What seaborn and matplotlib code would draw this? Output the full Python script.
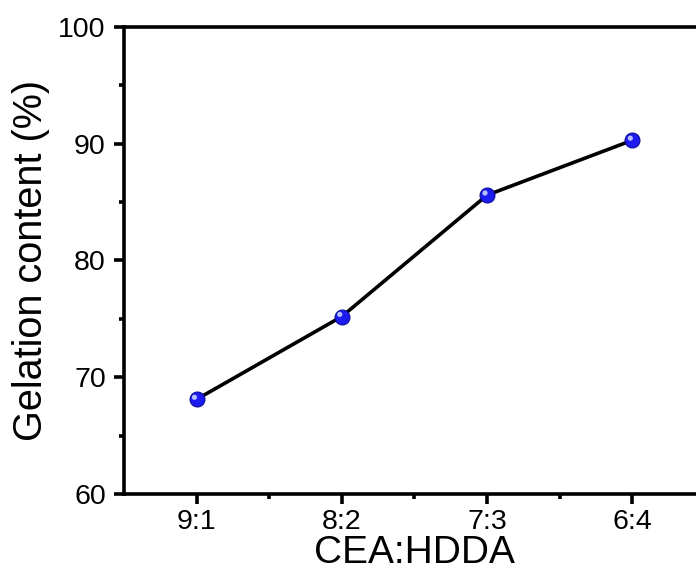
import matplotlib
matplotlib.use("Agg")
import matplotlib.pyplot as plt
import matplotlib.transforms as mtransforms
from matplotlib.ticker import MultipleLocator, FixedLocator
import seaborn as sns
import pandas as pd

ratios = ["9:1", "8:2", "7:3", "6:4"]
gelation = [68.1, 75.2, 85.6, 90.3]
y_ticks = [60, 70, 80, 90, 100]

sns.set_style("ticks")
plt.rcParams['font.family'] = ['Liberation Sans', 'DejaVu Sans']
plt.rcParams['text.color'] = 'black'
plt.rcParams['axes.labelcolor'] = 'black'
plt.rcParams['xtick.color'] = 'black'
plt.rcParams['ytick.color'] = 'black'

df = pd.DataFrame({"ratio": ratios, "gel": gelation})

fig = plt.figure(figsize=(6.96, 5.75), dpi=100)
ax = fig.add_axes([0.178, 0.141, 0.835, 0.812])

sns.lineplot(data=df, x="ratio", y="gel", ax=ax, color="black", linewidth=2.6,
             sort=False, zorder=2)
sns.scatterplot(data=df, x="ratio", y="gel", ax=ax, s=115, color="#1c1cf0",
                edgecolor="#0a0a9a", linewidth=0.8, zorder=3)
hl = mtransforms.offset_copy(ax.transData, fig=fig, x=-1.5, y=1.5, units="points")
ax.scatter(range(len(ratios)), gelation, s=14, color="#b8c0ff", edgecolor="none",
           zorder=4, transform=hl)

ax.set_xlim(-0.5, len(ratios) - 0.5)
ax.set_ylim(60, 100)
ax.set_yticks(y_ticks)
ax.xaxis.set_minor_locator(FixedLocator([0.5, 1.5, 2.5]))
ax.yaxis.set_minor_locator(MultipleLocator(5))

for s in ax.spines.values():
    s.set_linewidth(2.6)
    s.set_color("black")
ax.spines["right"].set_visible(True)
ax.spines["top"].set_visible(True)

ax.tick_params(axis="both", which="major", direction="out", length=7, width=2.6,
               labelsize=20.5, color="black", labelcolor="black")
ax.tick_params(axis="both", which="minor", direction="out", length=3.5, width=2.6,
               color="black")
ax.tick_params(axis="x", which="major", pad=4)
ax.tick_params(axis="y", which="major", pad=6)
ax.tick_params(top=False, right=False, which="both")

ax.set_xlabel("CEA:HDDA", fontsize=28, labelpad=-0.5, color="black")
ax.set_ylabel("Gelation content (%)", fontsize=28.5, labelpad=6, color="black")

fig.savefig("out.png", dpi=100)
